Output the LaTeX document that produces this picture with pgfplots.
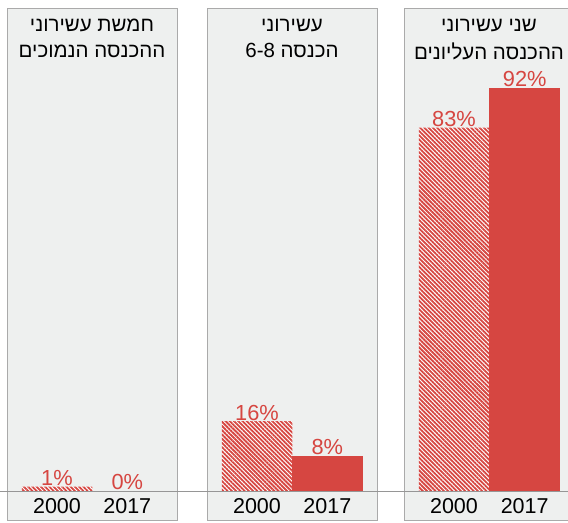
\documentclass[border=0pt]{standalone}
\usepackage{fontspec}
\setmainfont{Liberation Sans}
\newfontfamily\hebfont[Script=Hebrew]{Liberation Sans}
\TeXXeTstate=1
\usepackage{pgfplots}
\pgfplotsset{compat=1.18}
\usetikzlibrary{patterns.meta}
\definecolor{barred}{RGB}{214,70,65}
\definecolor{panelbg}{RGB}{238,240,239}
\definecolor{panelline}{RGB}{170,170,170}
\definecolor{basegray}{RGB}{150,150,150}

\begin{document}
\begin{tikzpicture}
\begin{axis}[
  set layers,
  width=568pt, height=522pt, scale only axis,
  xmin=0, xmax=568, ymin=-7.08, ymax=112.1,
  axis line style={draw=none},
  ytick=\empty,
  xtick={57,127.3,257,327.3,454,524.7},
  xticklabels={2000,2017,2000,2017,2000,2017},
  major tick length=0pt,
  xticklabel style={anchor=center, yshift=16pt, font=\fontsize{21.5}{24}\selectfont},
  /pgf/number format/assume math mode=true,
  ybar, bar width=70.5, bar shift=0pt,
  nodes near coords={\pgfmathprintnumber{\pgfplotspointmeta}\%},
  every node near coord/.append style={text=barred, font=\fontsize{21.8}{24}\selectfont, inner sep=0.5pt},
]
\begin{pgfonlayer}{axis background}
  \filldraw[fill=panelbg, draw=panelline] (axis cs:7,-6.62) rectangle (axis cs:177,110.27);
  \filldraw[fill=panelbg, draw=panelline] (axis cs:207,-6.62) rectangle (axis cs:377,110.27);
  \filldraw[fill=panelbg, draw=panelline] (axis cs:404,-6.62) rectangle (axis cs:575,110.27);
\end{pgfonlayer}

% 2000: hatched
\addplot[draw=none, fill=white,
  postaction={pattern={Lines[angle=-45, distance=3pt, line width=1.8pt]}, pattern color=barred}]
  coordinates {(57,1) (257,16) (454,83)};
% 2017: solid
\addplot[draw=barred, line width=1pt, fill=barred]
  coordinates {(127.3,0) (327.3,8) (524.7,92)};

\draw[basegray] (axis cs:0,0) -- (axis cs:568,0);

\tikzset{hdr/.style={font={\hebfont\fontsize{20.5}{24}\selectfont}, inner sep=0pt}}
\node[hdr] at (axis cs:92,106.4) {\beginR חמשת עשירוני\endR};
\node[hdr] at (axis cs:92,100.5) {\beginR ההכנסה הנמוכים\endR};
\node[hdr] at (axis cs:292,106.4) {\beginR עשירוני\endR};
\node[hdr] at (axis cs:292,100.5) {\beginR הכנסה \beginL 6-8\endL\endR};
\node[hdr] at (axis cs:489,106.4) {\beginR שני עשירוני\endR};
\node[hdr] at (axis cs:489,100.5) {\beginR ההכנסה העליונים\endR};
\end{axis}
\end{tikzpicture}
\end{document}
